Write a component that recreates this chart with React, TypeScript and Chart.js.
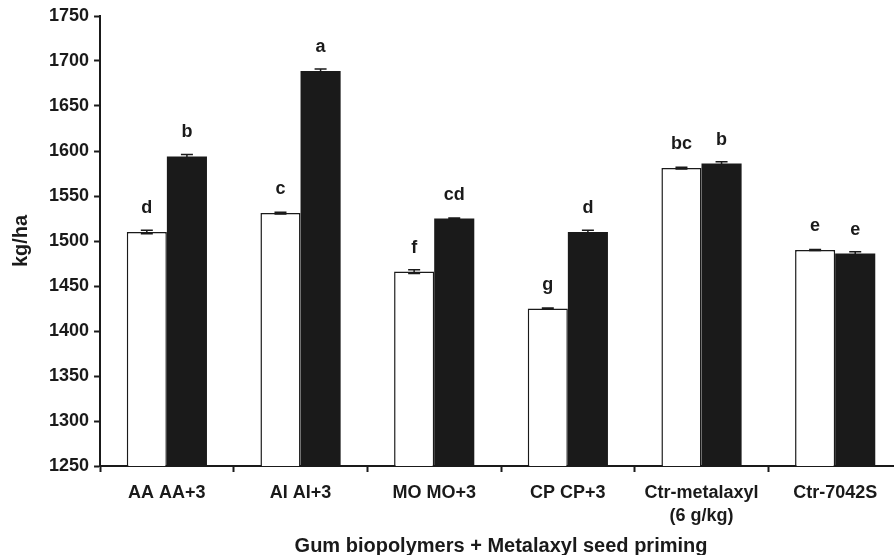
import React, { useEffect, useRef } from "react";
import { Chart, registerables } from "chart.js";

Chart.register(...registerables);

const categories: (string | string[])[] = [
  "AA AA+3",
  "AI AI+3",
  "MO MO+3",
  "CP CP+3",
  ["Ctr-metalaxyl", "(6 g/kg)"],
  "Ctr-7042S",
];
const whiteValues = [1510, 1531, 1466, 1425, 1581, 1490];
const blackValues = [1594, 1689, 1525, 1510, 1586, 1486];
const whiteErrors = [2, 1, 2, 0.5, 1, 0.5];
const blackErrors = [2, 2, 0.5, 2, 2, 2];
const whiteLetters = ["d", "c", "f", "g", "bc", "e"];
const blackLetters = ["b", "a", "cd", "d", "b", "e"];
const yTicks = [1250, 1300, 1350, 1400, 1450, 1500, 1550, 1600, 1650, 1700, 1750];

const INK = "#1a1a1a";
const FONT = "'Liberation Sans', Arial, Helvetica, sans-serif";

const errorAndLetters = {
  id: "errorAndLetters",
  afterDatasetsDraw(chart: any) {
    const ctx = chart.ctx;
    const yScale = chart.scales.y;
    const errs = [whiteErrors, blackErrors];
    const letters = [whiteLetters, blackLetters];
    chart.data.datasets.forEach((ds: any, di: number) => {
      const meta = chart.getDatasetMeta(di);
      meta.data.forEach((bar: any, i: number) => {
        const v = ds.data[i];
        const e = errs[di][i];
        const x = bar.x;
        const yHi = yScale.getPixelForValue(v + e);
        const yLo = yScale.getPixelForValue(v - e);
        ctx.save();
        ctx.strokeStyle = INK;
        ctx.lineWidth = 1.5;
        ctx.beginPath();
        ctx.moveTo(x, yHi);
        ctx.lineTo(x, yLo);
        ctx.moveTo(x - 6, yHi);
        ctx.lineTo(x + 6, yHi);
        ctx.moveTo(x - 6, yLo);
        ctx.lineTo(x + 6, yLo);
        ctx.stroke();
        ctx.fillStyle = INK;
        ctx.font = `bold 18px ${FONT}`;
        ctx.textAlign = "center";
        ctx.textBaseline = "alphabetic";
        ctx.fillText(letters[di][i], x, yScale.getPixelForValue(v) - 19);
        ctx.restore();
      });
    });
  },
};

export default function App() {
  const ref = useRef<HTMLCanvasElement | null>(null);
  useEffect(() => {
    if (!ref.current) return;
    const chart = new Chart(ref.current, {
      type: "bar",
      data: {
        labels: categories,
        datasets: [
          {
            label: "Gum",
            data: whiteValues,
            backgroundColor: "#ffffff",
            borderColor: INK,
            borderWidth: 1.5,
            categoryPercentage: 0.6,
            barPercentage: 1.0,
          },
          {
            label: "Gum+3",
            data: blackValues,
            backgroundColor: INK,
            borderColor: INK,
            borderWidth: 0,
            categoryPercentage: 0.6,
            barPercentage: 1.0,
          },
        ],
      },
      options: {
        responsive: false,
        animation: false,
        devicePixelRatio: 1,
        layout: { padding: { top: 16, right: 8, left: 0, bottom: 0 } },
        plugins: {
          legend: { display: false },
          tooltip: { enabled: false },
        },
        scales: {
          x: {
            grid: {
              offset: true,
              drawOnChartArea: false,
              drawTicks: true,
              tickLength: 6,
              tickWidth: 2,
              tickColor: INK,
            },
            border: { display: true, color: INK, width: 2 },
            ticks: {
              color: INK,
              font: { family: FONT, size: 18, weight: "bold", lineHeight: 1.25 },
              padding: 10,
              maxRotation: 0,
              autoSkip: false,
            },
            title: {
              display: true,
              text: "Gum biopolymers + Metalaxyl seed priming",
              color: INK,
              font: { family: FONT, size: 20, weight: "bold", lineHeight: 0.9 },
              padding: { top: 0, bottom: 0 },
            },
          },
          y: {
            min: 1250,
            max: 1750,
            afterBuildTicks: (scale: any) => {
              scale.ticks = yTicks.map((v) => ({ value: v }));
            },
            grid: {
              drawOnChartArea: false,
              drawTicks: true,
              tickLength: 6,
              tickWidth: 2,
              tickColor: INK,
            },
            border: { display: true, color: INK, width: 2 },
            ticks: {
              color: INK,
              font: { family: FONT, size: 18, weight: "bold" },
              padding: 5,
              callback: (v: any) => String(v),
            },
            title: {
              display: true,
              text: "kg/ha",
              color: INK,
              font: { family: FONT, size: 20, weight: "bold", lineHeight: 1.2 },
              padding: { top: 9, bottom: 11 },
            },
          },
        },
      },
      plugins: [errorAndLetters],
    } as any);
    return () => chart.destroy();
  }, []);
  return (
    <div style={{ position: "fixed", left: 0, top: 0, width: 910, height: 555 }}>
      <canvas ref={ref} width={910} height={555} style={{ display: "block" }} />
    </div>
  );
}
